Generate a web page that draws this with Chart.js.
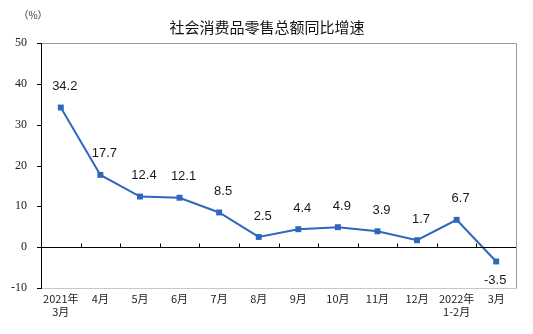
<!DOCTYPE html>
<html><head><meta charset="utf-8">
<script src="https://cdn.jsdelivr.net/npm/chart.js@4/dist/chart.umd.min.js"></script>
<style>html,body{margin:0;padding:0;background:#fff;}canvas{display:block;}</style>
</head><body>
<canvas id="c" width="533" height="334"></canvas>
<script>
const categories = [['2021年','3月'],'4月','5月','6月','7月','8月','9月','10月','11月','12月',['2022年','1-2月'],'3月'];
const growth = [34.2, 17.7, 12.4, 12.1, 8.5, 2.5, 4.4, 4.9, 3.9, 1.7, 6.7, -3.5];
const yTicks = [-10, 0, 10, 20, 30, 40, 50];
const titleText = '社会消费品零售总额同比增速';
const unitText = '（%）';

const framePlugin = {
  id: 'frame',
  afterDatasetsDraw(chart) {
    const {ctx, chartArea: a, scales: {x, y}} = chart;
    ctx.save();
    ctx.strokeStyle = '#9a9a9a';
    ctx.lineWidth = 1;
    ctx.beginPath();
    ctx.moveTo(a.left, a.top + 0.5); ctx.lineTo(a.right + 0.5, a.top + 0.5);
    ctx.lineTo(a.right + 0.5, a.bottom + 0.5);
    ctx.stroke();
    ctx.strokeStyle = '#c8c8c8';
    ctx.beginPath();
    ctx.moveTo(a.left, a.bottom + 0.5); ctx.lineTo(a.right, a.bottom + 0.5);
    ctx.stroke();
    ctx.strokeStyle = '#000';
    ctx.beginPath();
    ctx.moveTo(a.left + 0.5, a.top); ctx.lineTo(a.left + 0.5, a.bottom + 1);
    ctx.stroke();
    yTicks.forEach(v => {
      const py = Math.round(y.getPixelForValue(v)) + 0.5;
      ctx.beginPath(); ctx.moveTo(a.left - 4, py); ctx.lineTo(a.left + 0.5, py); ctx.stroke();
    });
    const zy = Math.round(y.getPixelForValue(0)) + 0.5;
    ctx.beginPath(); ctx.moveTo(a.left, zy); ctx.lineTo(a.right, zy); ctx.stroke();
    for (let i = 1; i < categories.length; i++) {
      const px = Math.round((x.getPixelForValue(i - 1) + x.getPixelForValue(i)) / 2) + 0.5;
      ctx.beginPath(); ctx.moveTo(px, zy); ctx.lineTo(px, zy - 4); ctx.stroke();
    }
    ctx.restore();
  },
  afterDraw(chart) {
    const {ctx} = chart;
    const meta = chart.getDatasetMeta(0);
    ctx.save();
    ctx.fillStyle = '#1a1a1a';
    ctx.font = '13px "Liberation Sans", Arial, sans-serif';
    ctx.textAlign = 'center';
    ctx.textBaseline = 'middle';
    meta.data.forEach((pt, i) => {
      const v = growth[i];
      const dy = v < 0 ? 19 : -21;
      ctx.fillText(v.toFixed(1), pt.x + (v < 0 ? -1 : 4), pt.y + dy);
    });
    ctx.fillStyle = '#111';
    ctx.font = '15px "Noto Sans CJK SC", sans-serif';
    ctx.fillText(titleText, 267, 27);
    ctx.font = '10px "Noto Sans CJK SC", sans-serif';
    ctx.fillStyle = '#333';
    ctx.fillText(unitText, 33, 15);
    ctx.restore();
  }
};

new Chart(document.getElementById('c'), {
  type: 'line',
  data: {
    labels: categories,
    datasets: [{
      data: growth,
      borderColor: '#2e68bd',
      backgroundColor: '#2e68bd',
      borderWidth: 2,
      pointStyle: 'rect',
      pointRadius: 4.2,
      pointBorderWidth: 0,
      tension: 0,
      clip: false
    }]
  },
  options: {
    responsive: false,
    animation: false,
    devicePixelRatio: 1,
    layout: { padding: { left: 0, top: 43, right: 17, bottom: 0 } },
    plugins: { legend: { display: false }, tooltip: { enabled: false }, title: { display: false } },
    scales: {
      x: {
        type: 'category',
        offset: true,
        grid: { display: false, drawTicks: false },
        border: { display: false },
        ticks: {
          color: '#222',
          font: { family: '"Noto Sans CJK SC", sans-serif', size: 11, lineHeight: 1.18 },
          padding: 4,
          maxRotation: 0,
          autoSkip: false
        },
        afterFit(s) { s.height = 46; }
      },
      y: {
        min: -10, max: 50,
        afterBuildTicks(s) { s.ticks = yTicks.map(v => ({ value: v })); },
        grid: { display: false, drawTicks: false },
        border: { display: false },
        ticks: {
          color: '#222',
          font: { family: '"Liberation Serif", "Times New Roman", serif', size: 12 },
          padding: 14,
          crossAlign: 'near'
        },
        afterFit(s) { s.width = 41; }
      }
    }
  },
  plugins: [framePlugin]
});
</script>
</body></html>
